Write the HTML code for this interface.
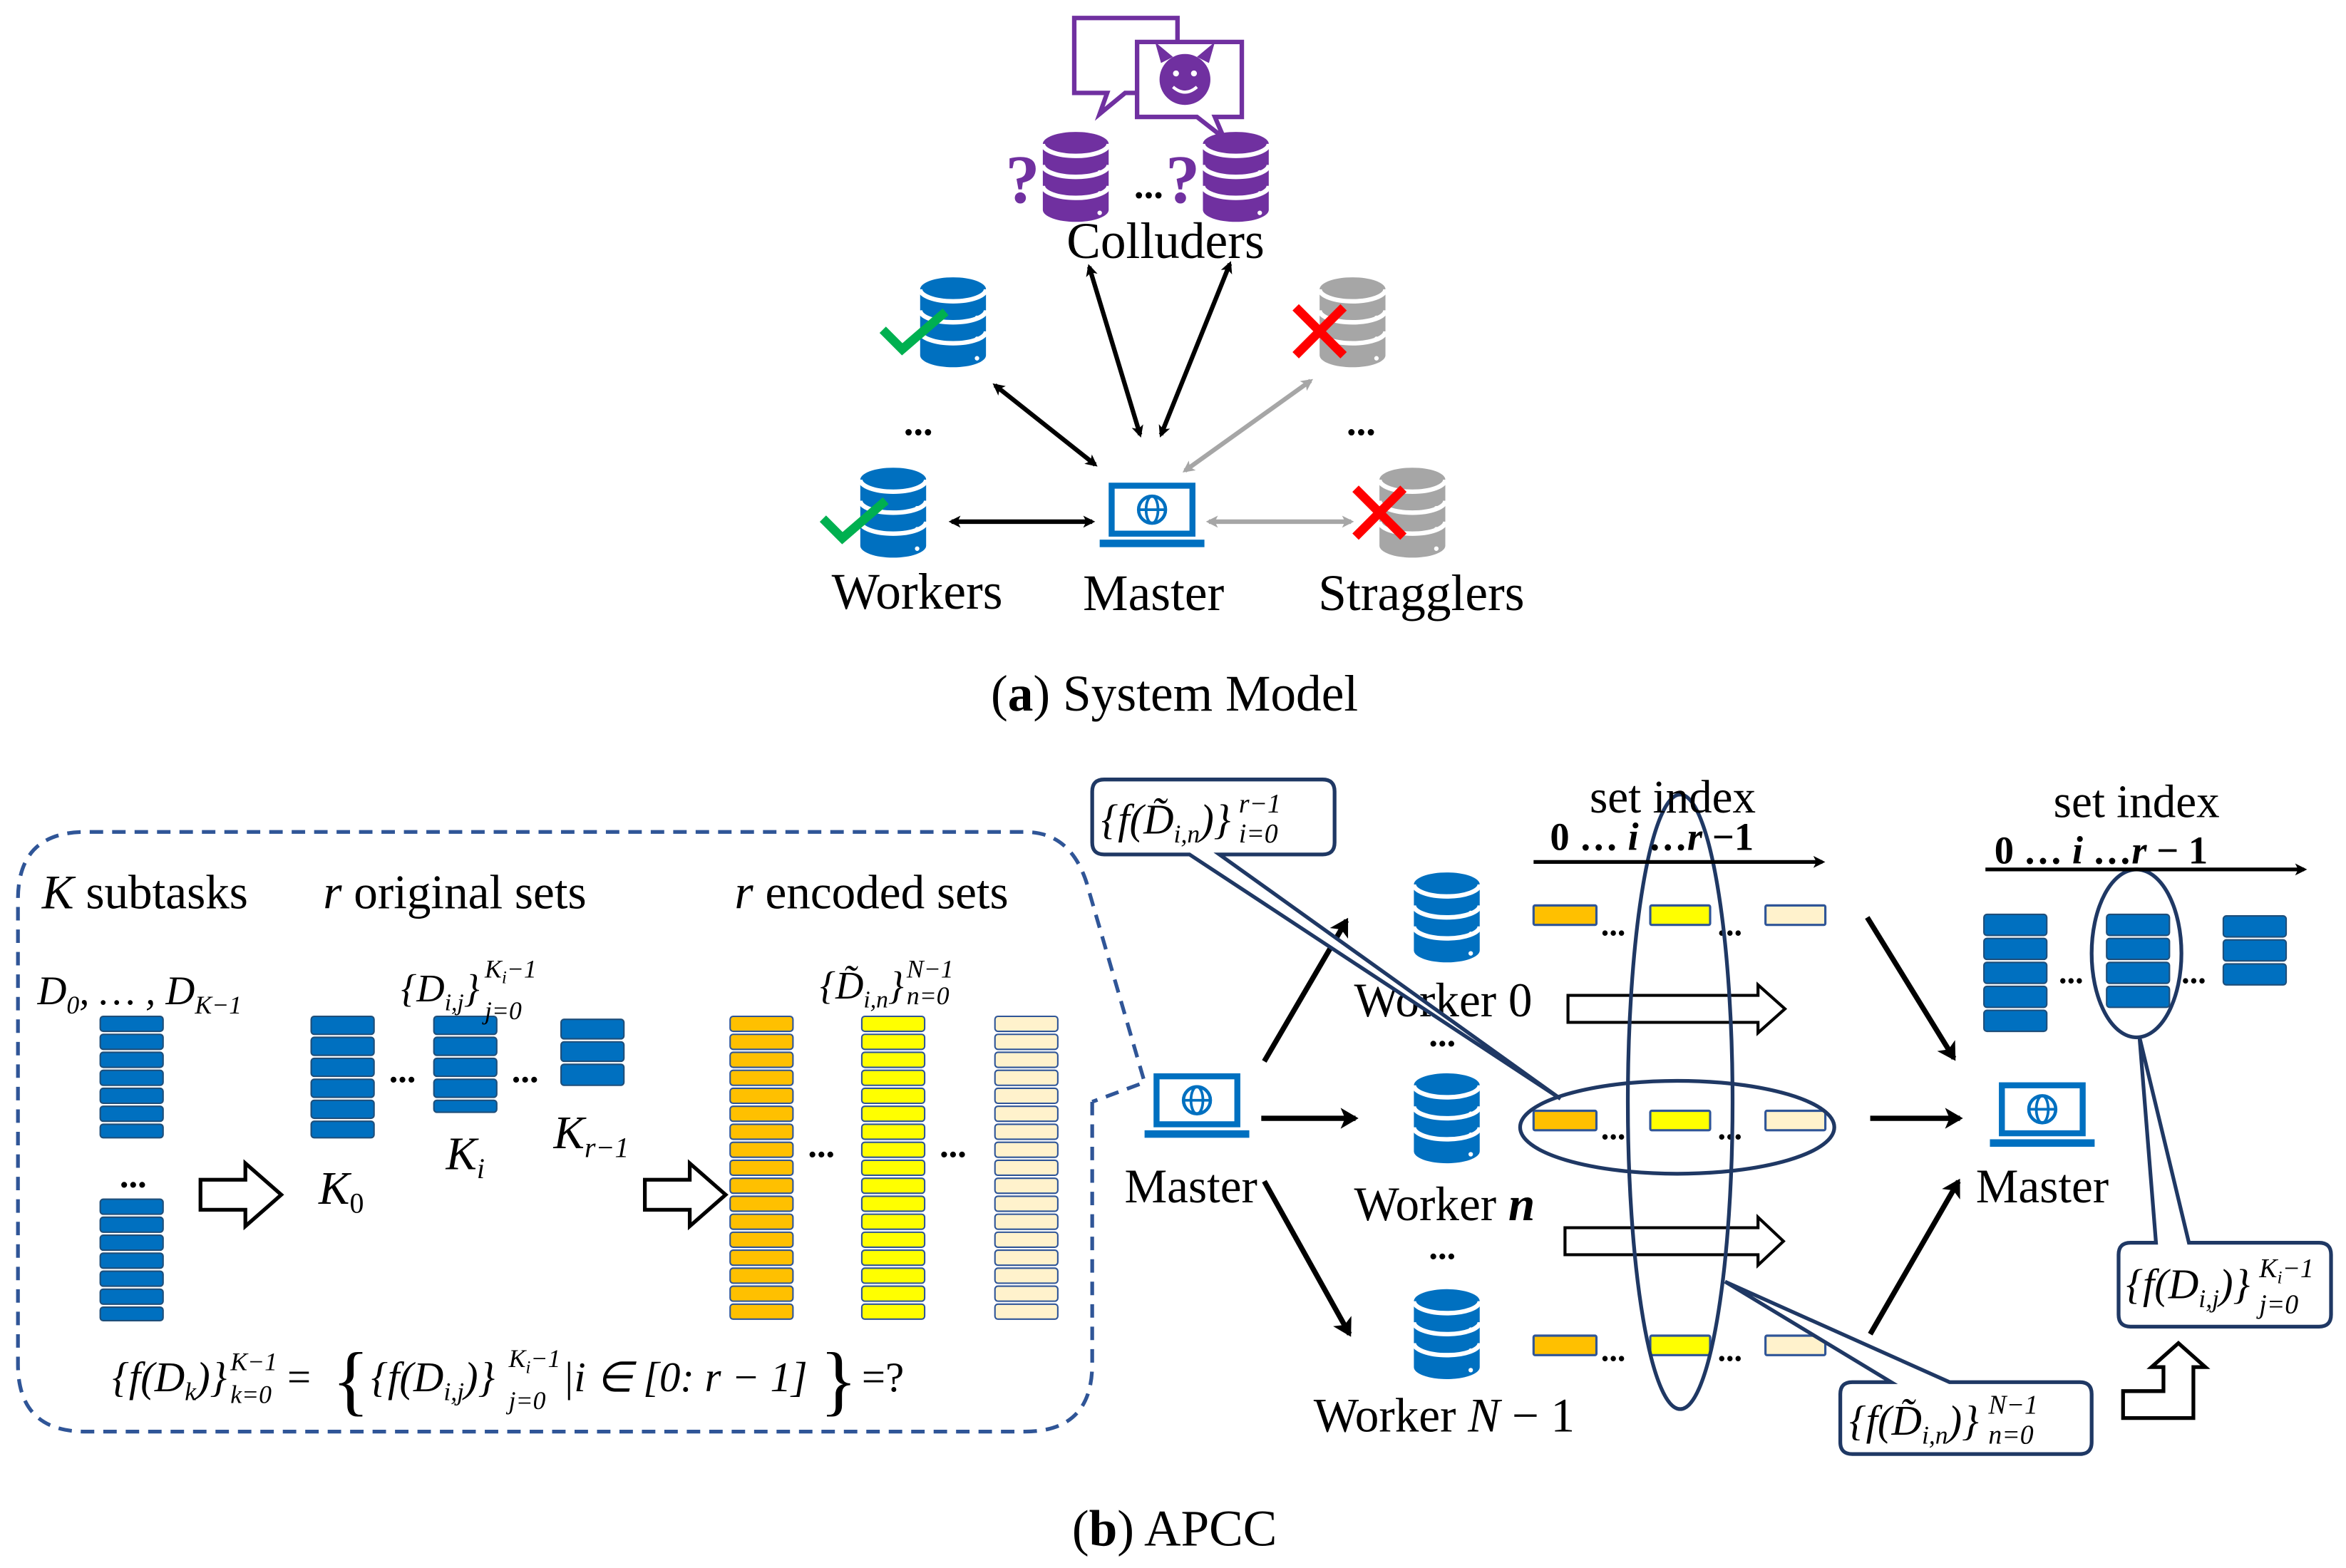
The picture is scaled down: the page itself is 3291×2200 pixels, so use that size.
<!DOCTYPE html>
<html><head><meta charset="utf-8"><style>
html,body{margin:0;padding:0;background:#fff}
svg{display:block}
text{font-family:"Liberation Serif",serif;fill:#000}
.m{font-family:"Liberation Serif",serif;font-style:italic}
</style></head><body>
<svg width="3291" height="2200" viewBox="0 0 1568 1046" preserveAspectRatio="none" xmlns="http://www.w3.org/2000/svg">
<defs>
<marker id="ah" markerWidth="8" markerHeight="8" refX="6" refY="4" orient="auto-start-reverse" markerUnits="userSpaceOnUse"><path d="M0,0 L8,4 L0,8 L2,4z" fill="#000"/></marker>
<marker id="ahg" markerWidth="8" markerHeight="8" refX="6" refY="4" orient="auto-start-reverse" markerUnits="userSpaceOnUse"><path d="M0,0 L8,4 L0,8 L2,4z" fill="#a6a6a6"/></marker>
<marker id="ahs" markerWidth="14" markerHeight="14" refX="10" refY="7" orient="auto" markerUnits="userSpaceOnUse"><path d="M0,0 L12,7 L0,14 L3,7z" fill="#000"/></marker>
<g id="db">
<path d="M0,8 A22,8 0 0 1 44,8 L44,52 A22,8 0 0 1 0,52 Z"/>
<path d="M0,8 A22,8 0 0 0 44,8 M0,22 A22,8 0 0 0 44,22 M0,36 A22,8 0 0 0 44,36" fill="none" stroke="#fff" stroke-width="3"/>
<circle cx="38" cy="27" r="1.5" fill="#fff"/><circle cx="38" cy="41" r="1.5" fill="#fff"/><circle cx="38" cy="54" r="1.5" fill="#fff"/>
</g>
<g id="lap">
<rect x="6" y="0" width="58" height="36" fill="#0070c0"/>
<rect x="10" y="4" width="50" height="28" fill="#fff"/>
<circle cx="35" cy="18" r="9" fill="none" stroke="#0070c0" stroke-width="2.2"/>
<ellipse cx="35" cy="18" rx="4" ry="9" fill="none" stroke="#0070c0" stroke-width="1.8"/>
<line x1="26" y1="18" x2="44" y2="18" stroke="#0070c0" stroke-width="1.8"/>
<rect x="0" y="38" width="70" height="5" fill="#0070c0"/>
</g>
</defs>

<!-- ===== (a) ===== -->
<path d="M718,12 H787 V62 H752 L735,76 L740,62 H718 Z" fill="#fff" stroke="#7030a0" stroke-width="3"/>
<path d="M760,28 H830 V78 H812 L818,92 L800,78 H760 Z" fill="#fff" stroke="#7030a0" stroke-width="3"/>
<circle cx="792" cy="53" r="17" fill="#7030a0"/>
<path d="M776,42 L772,28 L784,38 M808,42 L812,28 L800,38" fill="#7030a0"/>
<circle cx="786" cy="49" r="2" fill="#fff"/><circle cx="798" cy="49" r="2" fill="#fff"/>
<path d="M784,58 Q792,65 800,58" stroke="#fff" stroke-width="2" fill="none"/>
<use href="#db" x="697" y="88" fill="#7030a0"/>
<use href="#db" x="804" y="88" fill="#7030a0"/>
<text x="672" y="135" font-size="46" font-weight="bold" style="fill:#7030a0">?</text>
<text x="779" y="135" font-size="46" font-weight="bold" style="fill:#7030a0">?</text>
<text x="758" y="132" font-size="26" font-weight="bold">...</text>
<text x="779" y="172" font-size="34" text-anchor="middle">Colluders</text>

<use href="#db" x="615" y="185" fill="#0070c0"/>
<path d="M590,220 L603,233 L632,208" stroke="#00b050" stroke-width="6" fill="none"/>
<text x="604" y="290" font-size="26" font-weight="bold">...</text>
<use href="#db" x="575" y="312" fill="#0070c0"/>
<path d="M550,346 L563,359 L592,334" stroke="#00b050" stroke-width="6" fill="none"/>

<use href="#db" x="882" y="185" fill="#a6a6a6"/>
<path d="M866,205 L898,237 M898,205 L866,237" stroke="#ff0000" stroke-width="6"/>
<text x="900" y="290" font-size="26" font-weight="bold">...</text>
<use href="#db" x="922" y="312" fill="#a6a6a6"/>
<path d="M906,326 L938,358 M938,326 L906,358" stroke="#ff0000" stroke-width="6"/>

<use href="#lap" x="735" y="322"/>

<g stroke="#000" stroke-width="3" fill="none">
<line x1="665" y1="257" x2="732" y2="310" marker-start="url(#ah)" marker-end="url(#ah)"/>
<line x1="728" y1="178" x2="762" y2="290" marker-start="url(#ah)" marker-end="url(#ah)"/>
<line x1="822" y1="176" x2="776" y2="290" marker-start="url(#ah)" marker-end="url(#ah)"/>
<line x1="636" y1="348" x2="730" y2="348" marker-start="url(#ah)" marker-end="url(#ah)"/>
</g>
<g stroke="#a6a6a6" stroke-width="3" fill="none">
<line x1="876" y1="254" x2="792" y2="314" marker-start="url(#ahg)" marker-end="url(#ahg)"/>
<line x1="808" y1="348" x2="903" y2="348" marker-start="url(#ahg)" marker-end="url(#ahg)"/>
</g>
<text x="613" y="406" font-size="34" text-anchor="middle">Workers</text>
<text x="771" y="407" font-size="34" text-anchor="middle">Master</text>
<text x="950" y="407" font-size="34" text-anchor="middle">Stragglers</text>
<text x="785" y="474" font-size="34" text-anchor="middle">(<tspan font-weight="bold">a</tspan>) System Model</text>

<!-- ===== (b) ===== -->
<path d="M730,735 L730,910 Q730,955 685,955 L57,955 Q12,955 12,910 L12,600 Q12,555 57,555 L685,555 Q718,555 728,595 L765,722 L730,735" fill="none" stroke="#2f5597" stroke-width="2.5" stroke-dasharray="9,6"/>
<text x="28" y="606" font-size="32"><tspan class="m">K</tspan> subtasks</text>
<text x="216" y="606" font-size="32"><tspan class="m">r</tspan>  original sets</text>
<text x="491" y="606" font-size="32"><tspan class="m">r</tspan>  encoded sets</text>
<text x="25" y="670" font-size="27" class="m">D<tspan font-size="17" dy="6">0</tspan><tspan dy="-6">, … , D</tspan><tspan font-size="17" dy="6">K−1</tspan></text>

<g fill="#0070c0" stroke="#1f4e79" stroke-width="1">
<rect x="67" y="678" width="42" height="10" rx="2"/><rect x="67" y="690" width="42" height="10" rx="2"/><rect x="67" y="702" width="42" height="10" rx="2"/><rect x="67" y="714" width="42" height="10" rx="2"/><rect x="67" y="726" width="42" height="10" rx="2"/><rect x="67" y="738" width="42" height="10" rx="2"/><rect x="67" y="750" width="42" height="9" rx="2"/>
<rect x="67" y="800" width="42" height="10" rx="2"/><rect x="67" y="812" width="42" height="10" rx="2"/><rect x="67" y="824" width="42" height="10" rx="2"/><rect x="67" y="836" width="42" height="10" rx="2"/><rect x="67" y="848" width="42" height="10" rx="2"/><rect x="67" y="860" width="42" height="10" rx="2"/><rect x="67" y="872" width="42" height="9" rx="2"/>
<rect x="208" y="678" width="42" height="12" rx="2"/><rect x="208" y="692" width="42" height="12" rx="2"/><rect x="208" y="706" width="42" height="12" rx="2"/><rect x="208" y="720" width="42" height="12" rx="2"/><rect x="208" y="734" width="42" height="12" rx="2"/><rect x="208" y="748" width="42" height="11" rx="2"/>
<rect x="290" y="678" width="42" height="12" rx="2"/><rect x="290" y="692" width="42" height="12" rx="2"/><rect x="290" y="706" width="42" height="12" rx="2"/><rect x="290" y="720" width="42" height="12" rx="2"/><rect x="290" y="734" width="42" height="8" rx="2"/>
<rect x="375" y="680" width="42" height="13" rx="2"/><rect x="375" y="695" width="42" height="13" rx="2"/><rect x="375" y="710" width="42" height="14" rx="2"/>
</g>
<text x="80" y="792" font-size="24" font-weight="bold">...</text>
<text x="260" y="722" font-size="24" font-weight="bold">...</text>
<text x="342" y="722" font-size="24" font-weight="bold">...</text>
<text x="268" y="668" font-size="26" class="m">{D<tspan font-size="16" dy="6">i,j</tspan><tspan dy="-6">}</tspan></text>
<text x="324" y="652" font-size="17" class="m">K<tspan font-size="12" dy="4">i</tspan><tspan dy="-4">−1</tspan></text>
<text x="324" y="680" font-size="17" class="m">j=0</text>
<text x="213" y="803" font-size="31" class="m">K<tspan font-size="19" dy="6" style="font-style:normal">0</tspan></text>
<text x="298" y="780" font-size="31" class="m">K<tspan font-size="19" dy="6">i</tspan></text>
<text x="370" y="766" font-size="31" class="m">K<tspan font-size="19" dy="6">r−1</tspan></text>
<path d="M134,787 H164 V776 L188,797 L164,818 V807 H134 Z" fill="#fff" stroke="#000" stroke-width="2.5"/>
<path d="M431,787 H461 V776 L485,797 L461,818 V807 H431 Z" fill="#fff" stroke="#000" stroke-width="2.5"/>

<g stroke="#2f5597" stroke-width="1">
<g fill="#ffc000">
<rect x="488" y="678" width="42" height="10" rx="2"/><rect x="488" y="690" width="42" height="10" rx="2"/><rect x="488" y="702" width="42" height="10" rx="2"/><rect x="488" y="714" width="42" height="10" rx="2"/><rect x="488" y="726" width="42" height="10" rx="2"/><rect x="488" y="738" width="42" height="10" rx="2"/><rect x="488" y="750" width="42" height="10" rx="2"/><rect x="488" y="762" width="42" height="10" rx="2"/><rect x="488" y="774" width="42" height="10" rx="2"/><rect x="488" y="786" width="42" height="10" rx="2"/><rect x="488" y="798" width="42" height="10" rx="2"/><rect x="488" y="810" width="42" height="10" rx="2"/><rect x="488" y="822" width="42" height="10" rx="2"/><rect x="488" y="834" width="42" height="10" rx="2"/><rect x="488" y="846" width="42" height="10" rx="2"/><rect x="488" y="858" width="42" height="10" rx="2"/><rect x="488" y="870" width="42" height="10" rx="2"/>
</g>
<g fill="#ffff00">
<rect x="576" y="678" width="42" height="10" rx="2"/><rect x="576" y="690" width="42" height="10" rx="2"/><rect x="576" y="702" width="42" height="10" rx="2"/><rect x="576" y="714" width="42" height="10" rx="2"/><rect x="576" y="726" width="42" height="10" rx="2"/><rect x="576" y="738" width="42" height="10" rx="2"/><rect x="576" y="750" width="42" height="10" rx="2"/><rect x="576" y="762" width="42" height="10" rx="2"/><rect x="576" y="774" width="42" height="10" rx="2"/><rect x="576" y="786" width="42" height="10" rx="2"/><rect x="576" y="798" width="42" height="10" rx="2"/><rect x="576" y="810" width="42" height="10" rx="2"/><rect x="576" y="822" width="42" height="10" rx="2"/><rect x="576" y="834" width="42" height="10" rx="2"/><rect x="576" y="846" width="42" height="10" rx="2"/><rect x="576" y="858" width="42" height="10" rx="2"/><rect x="576" y="870" width="42" height="10" rx="2"/>
</g>
<g fill="#fff2cc">
<rect x="665" y="678" width="42" height="10" rx="2"/><rect x="665" y="690" width="42" height="10" rx="2"/><rect x="665" y="702" width="42" height="10" rx="2"/><rect x="665" y="714" width="42" height="10" rx="2"/><rect x="665" y="726" width="42" height="10" rx="2"/><rect x="665" y="738" width="42" height="10" rx="2"/><rect x="665" y="750" width="42" height="10" rx="2"/><rect x="665" y="762" width="42" height="10" rx="2"/><rect x="665" y="774" width="42" height="10" rx="2"/><rect x="665" y="786" width="42" height="10" rx="2"/><rect x="665" y="798" width="42" height="10" rx="2"/><rect x="665" y="810" width="42" height="10" rx="2"/><rect x="665" y="822" width="42" height="10" rx="2"/><rect x="665" y="834" width="42" height="10" rx="2"/><rect x="665" y="846" width="42" height="10" rx="2"/><rect x="665" y="858" width="42" height="10" rx="2"/><rect x="665" y="870" width="42" height="10" rx="2"/>
</g></g>
<text x="540" y="772" font-size="24" font-weight="bold">...</text>
<text x="628" y="772" font-size="24" font-weight="bold">...</text>
<text x="548" y="666" font-size="26" class="m">{D̃<tspan font-size="16" dy="6">i,n</tspan><tspan dy="-6">}</tspan></text>
<text x="606" y="652" font-size="17" class="m">N−1</text>
<text x="606" y="670" font-size="17" class="m">n=0</text>

<text x="75" y="928" font-size="28" class="m">{f(D<tspan font-size="17" dy="6">k</tspan><tspan dy="-6">)}</tspan></text>
<text x="154" y="914" font-size="17" class="m">K−1</text>
<text x="154" y="936" font-size="17" class="m">k=0</text>
<text x="192" y="928" font-size="28">=</text>
<text x="222" y="938" font-size="52">{</text>
<text x="248" y="928" font-size="28" class="m">{f(D<tspan font-size="17" dy="6">i,j</tspan><tspan dy="-6">)}</tspan></text>
<text x="340" y="912" font-size="17" class="m">K<tspan font-size="12" dy="4">i</tspan><tspan dy="-4">−1</tspan></text>
<text x="340" y="940" font-size="17" class="m">j=0</text>
<text x="376" y="928" font-size="28" class="m">|i ∈ [0: r − 1]</text>
<text x="548" y="938" font-size="52">}</text>
<text x="576" y="928" font-size="28">=?</text>

<use href="#lap" x="765" y="716"/>
<text x="796" y="802" font-size="32" text-anchor="middle">Master</text>

<g stroke="#000" stroke-width="3.5" fill="none">
<line x1="845" y1="708" x2="900" y2="614" marker-end="url(#ahs)"/>
<line x1="843" y1="746" x2="906" y2="746" marker-end="url(#ahs)"/>
<line x1="845" y1="788" x2="902" y2="890" marker-end="url(#ahs)"/>
<line x1="1248" y1="612" x2="1306" y2="706" marker-end="url(#ahs)"/>
<line x1="1250" y1="746" x2="1310" y2="746" marker-end="url(#ahs)"/>
<line x1="1250" y1="890" x2="1309" y2="788" marker-end="url(#ahs)"/>
</g>

<use href="#db" x="945" y="582" fill="#0070c0"/>
<use href="#db" x="945" y="716" fill="#0070c0"/>
<use href="#db" x="945" y="860" fill="#0070c0"/>
<text x="905" y="678" font-size="32">Worker 0</text>
<text x="955" y="698" font-size="24" font-weight="bold">...</text>
<text x="905" y="814" font-size="32">Worker <tspan class="m" font-weight="bold">n</tspan></text>
<text x="955" y="840" font-size="24" font-weight="bold">...</text>
<text x="878" y="955" font-size="32">Worker <tspan class="m">N</tspan> − 1</text>

<g stroke="#2f5597" stroke-width="1.5">
<rect x="1025" y="604" width="42" height="13" fill="#ffc000" rx="1"/><rect x="1103" y="604" width="40" height="13" fill="#ffff00" rx="1"/><rect x="1180" y="604" width="40" height="13" fill="#fff2cc" rx="1"/>
<rect x="1025" y="741" width="42" height="13" fill="#ffc000" rx="1"/><rect x="1103" y="741" width="40" height="13" fill="#ffff00" rx="1"/><rect x="1180" y="741" width="40" height="13" fill="#fff2cc" rx="1"/>
<rect x="1025" y="891" width="42" height="13" fill="#ffc000" rx="1"/><rect x="1103" y="891" width="40" height="13" fill="#ffff00" rx="1"/><rect x="1180" y="891" width="40" height="13" fill="#fff2cc" rx="1"/>
</g>
<g font-size="22" font-weight="bold">
<text x="1070" y="624">...</text><text x="1148" y="624">...</text>
<text x="1070" y="760">...</text><text x="1148" y="760">...</text>
<text x="1070" y="908">...</text><text x="1148" y="908">...</text>
</g>
<path d="M1048,664 H1175 V657 L1193,673 L1175,689 V682 H1048 Z" fill="#fff" stroke="#000" stroke-width="2"/>
<path d="M1046,819 H1175 V812 L1192,828 L1175,844 V837 H1046 Z" fill="#fff" stroke="#000" stroke-width="2"/>

<g stroke="#1f3864" stroke-width="2.5" fill="none">
<ellipse cx="1123" cy="735" rx="35" ry="205"/>
<ellipse cx="1121" cy="752" rx="105" ry="31"/>
<ellipse cx="1428" cy="636" rx="30" ry="56"/>
</g>

<text x="1118" y="542" font-size="31" text-anchor="middle">set index</text>
<text x="1036" y="567" font-size="26" font-weight="bold">0  …  <tspan class="m">i</tspan>  …<tspan class="m">r</tspan> −1</text>
<line x1="1025" y1="575" x2="1218" y2="575" stroke="#000" stroke-width="2.5" marker-end="url(#ah)"/>
<text x="1428" y="545" font-size="31" text-anchor="middle">set index</text>
<text x="1333" y="576" font-size="26" font-weight="bold">0  …  <tspan class="m">i</tspan>  …<tspan class="m">r</tspan> − 1</text>
<line x1="1327" y1="580" x2="1540" y2="580" stroke="#000" stroke-width="2.5" marker-end="url(#ah)"/>

<g fill="#0070c0" stroke="#1f4e79" stroke-width="1">
<rect x="1326" y="610" width="42" height="14" rx="2"/><rect x="1326" y="626" width="42" height="14" rx="2"/><rect x="1326" y="642" width="42" height="14" rx="2"/><rect x="1326" y="658" width="42" height="14" rx="2"/><rect x="1326" y="674" width="42" height="14" rx="2"/>
<rect x="1408" y="610" width="42" height="14" rx="2"/><rect x="1408" y="626" width="42" height="14" rx="2"/><rect x="1408" y="642" width="42" height="14" rx="2"/><rect x="1408" y="658" width="42" height="14" rx="2"/>
<rect x="1486" y="611" width="42" height="14" rx="2"/><rect x="1486" y="627" width="42" height="14" rx="2"/><rect x="1486" y="643" width="42" height="14" rx="2"/>
</g>
<text x="1376" y="656" font-size="22" font-weight="bold">...</text>
<text x="1458" y="656" font-size="22" font-weight="bold">...</text>

<use href="#lap" x="1330" y="722"/>
<text x="1365" y="802" font-size="32" text-anchor="middle">Master</text>

<!-- callouts -->
<path d="M738,520 H884 Q892,520 892,528 V562 Q892,570 884,570 H815 L1043,733 L795,570 H738 Q730,570 730,562 V528 Q730,520 738,520 Z" fill="#fff" stroke="#1f3864" stroke-width="2.5"/>
<text x="736" y="556" font-size="28" class="m">{f(D̃<tspan font-size="17" dy="6">i,n</tspan><tspan dy="-6">)}</tspan></text>
<text x="828" y="542" font-size="18" class="m">r−1</text>
<text x="828" y="562" font-size="18" class="m">i=0</text>
<path d="M1238,922 H1264 L1153,855 L1303,922 H1390 Q1398,922 1398,930 V962 Q1398,970 1390,970 H1238 Q1230,970 1230,962 V930 Q1230,922 1238,922 Z" fill="#fff" stroke="#1f3864" stroke-width="2.5"/>
<text x="1236" y="957" font-size="28" class="m">{f(D̃<tspan font-size="17" dy="6">i,n</tspan><tspan dy="-6">)}</tspan></text>
<text x="1329" y="943" font-size="18" class="m">N−1</text>
<text x="1329" y="963" font-size="18" class="m">n=0</text>
<path d="M1424,829 H1441 L1430,692 L1463,829 H1550 Q1558,829 1558,837 V877 Q1558,885 1550,885 H1424 Q1416,885 1416,877 V837 Q1416,829 1424,829 Z" fill="#fff" stroke="#1f3864" stroke-width="2.5"/>
<text x="1421" y="866" font-size="28" class="m">{f(D<tspan font-size="17" dy="6">i,j</tspan><tspan dy="-6">)}</tspan></text>
<text x="1510" y="852" font-size="18" class="m">K<tspan font-size="12" dy="4">i</tspan><tspan dy="-4">−1</tspan></text>
<text x="1510" y="876" font-size="18" class="m">j=0</text>
<path d="M1419,928 H1446 V912 H1438 L1456,896 L1474,912 H1466 V946 H1419 Z" fill="#fff" stroke="#000" stroke-width="2.5"/>

<text x="785" y="1031" font-size="34" text-anchor="middle">(<tspan font-weight="bold">b</tspan>) APCC</text>
</svg>
</body></html>
